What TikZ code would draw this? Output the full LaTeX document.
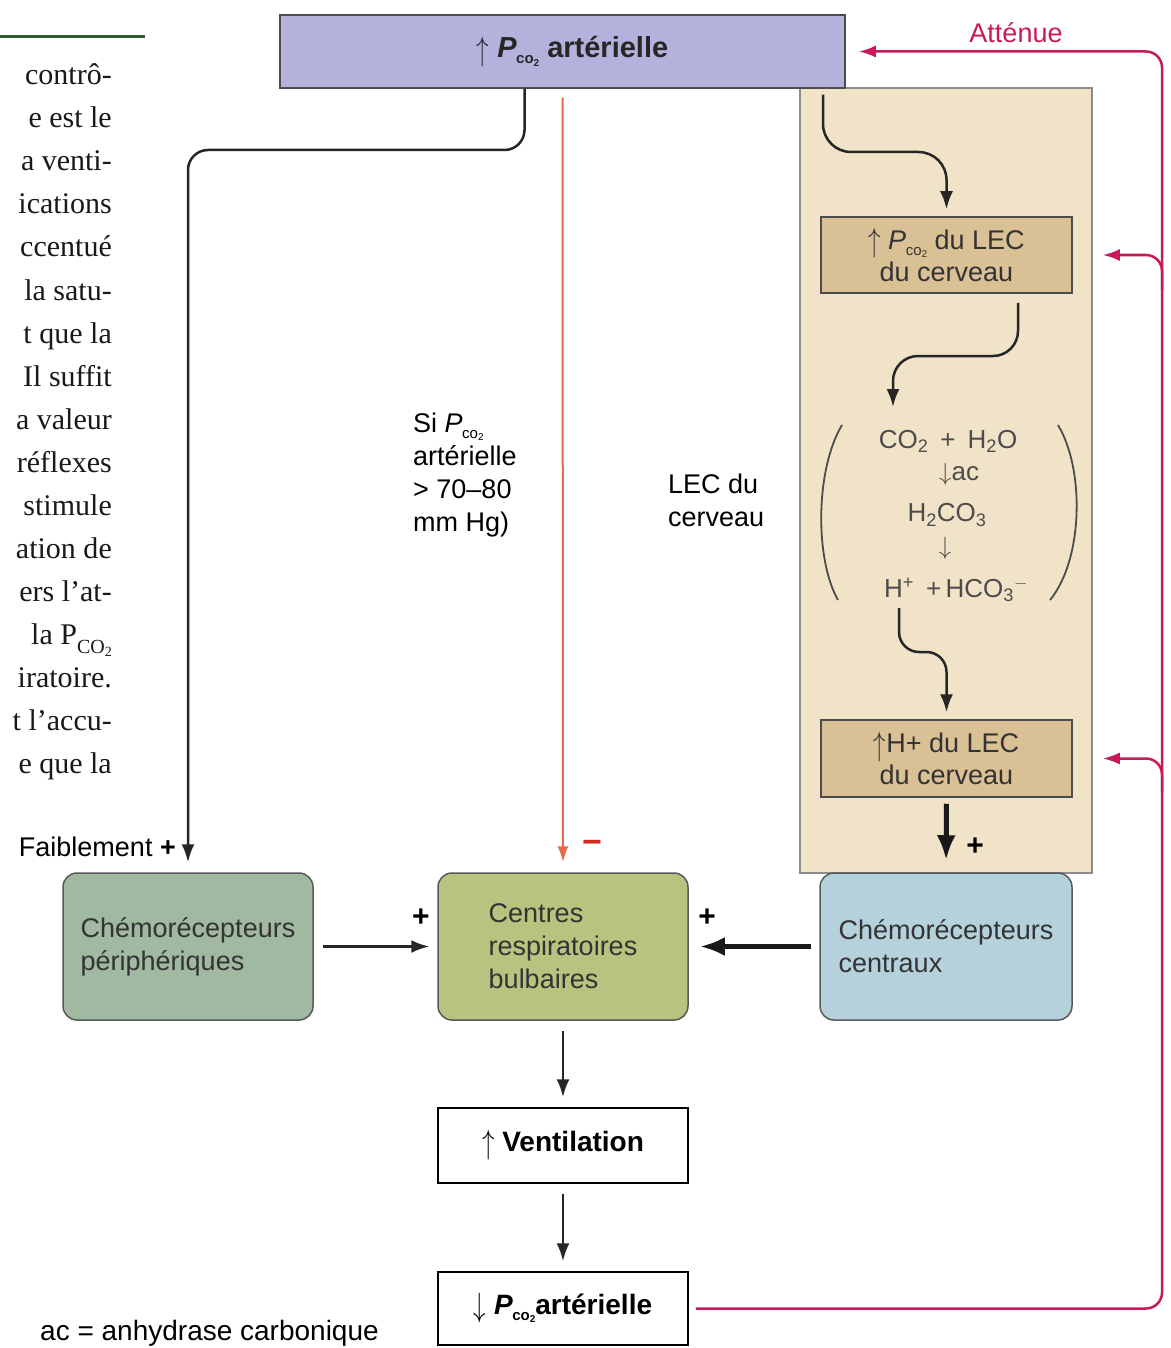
\documentclass[tikz,border=0pt]{standalone}
\usepackage{fontspec}
\setmainfont{Liberation Sans}
\newfontfamily\bookfont{Liberation Serif}
\usetikzlibrary{arrows.meta}
\definecolor{lav}{HTML}{B4B1DC}
\definecolor{tanA}{HTML}{F1E3C8}
\definecolor{tanB}{HTML}{DAC095}
\definecolor{grnA}{HTML}{A0B9A0}
\definecolor{grnB}{HTML}{B8C37F}
\definecolor{bluA}{HTML}{B5D1DB}
\definecolor{mag}{HTML}{C8195A}
\definecolor{orng}{HTML}{E56A48}
\definecolor{redm}{HTML}{D42C20}
\definecolor{txt}{HTML}{333333}
\definecolor{bookgreen}{HTML}{2E5E2E}
\newcommand{\Pco}{\textit{P}\kern-0.5pt\raisebox{-0.22em}{\fontsize{15}{15}\selectfont co\raisebox{-0.15em}{\fontsize{10}{10}\selectfont 2}}}
\newcommand{\upar}{\raisebox{-0.1em}{\scalebox{1}[1.35]{$\uparrow$}}}
\newcommand{\dnar}{\raisebox{-0.1em}{\scalebox{1}[1.35]{$\downarrow$}}}
\begin{document}
\begin{tikzpicture}[x=1pt,y=-1pt,
  lbl/.style={font=\fontsize{27}{33}\selectfont, text=black, inner sep=0pt},
  boxtxt/.style={font=\fontsize{27}{33}\selectfont, text=txt, align=left, inner sep=0pt},
  rbox/.style={boxtxt, draw=black!65, line width=1.5pt, rounded corners=14pt, minimum width=250pt, minimum height=147pt},
  tbox/.style={draw=black!70, line width=1.5pt, inner sep=0pt, align=center, font=\fontsize{27}{32}\selectfont, text=txt},
  conn/.style={draw=black!85, line width=2.5pt, -{Latex[length=18pt,width=13pt]}},
  bigconn/.style={draw=black!90, line width=5pt, -{Latex[length=25pt,width=19pt]}},
  magconn/.style={draw=mag, line width=2.5pt, -{Latex[length=17pt,width=12pt]}, rounded corners=16pt},
  redconn/.style={draw=orng, line width=2pt, -{Latex[length=16pt,width=11pt]}},
  chem/.style={font=\fontsize{26}{30}\selectfont, text=black!70, inner sep=0pt},
  book/.style={font=\bookfont\fontsize{30}{36}\selectfont, text=black!90, inner sep=0pt, anchor=base east}
]
\useasboundingbox (0,0) rectangle (1170,1348);
\clip (0,0) rectangle (1170,1348);
\fill[white] (0,0) rectangle (1170,1348);

% book text on the left
\draw[bookgreen, line width=3pt] (0,37) -- (145,37);
\foreach \t [count=\i] in {contrô-, e est le, a venti-, ications, ccentué, la satu-, t que la, Il suffit, a valeur, réflexes, stimule, ation de, ers l’at-, {la P\raisebox{-0.3em}{\fontsize{20}{20}\selectfont CO\raisebox{-0.15em}{\fontsize{14}{14}\selectfont 2}}}, iratoire., t l’accu-, e que la}
  \node[book, name=bk\i] at (112,{85+43*(\i-1)}) {\t};

% boxes
\node[draw=black!45, fill=tanA, line width=1.5pt, minimum width=292pt, minimum height=785pt, inner sep=0pt] (brain) at (946,480.5) {};
\node[tbox, fill=lav, minimum width=565pt, minimum height=73pt, font=\bfseries\fontsize{29}{32}\selectfont, text=black!85] (top) at (562.5,51.5) {\hspace*{20pt}\upar\ \Pco\ artérielle};
\node[tbox, fill=tanB, minimum width=251pt, minimum height=76pt] (lec1) at (946.5,255) {\upar\ \Pco\ du LEC\\du cerveau};
\node[tbox, fill=tanB, minimum width=251pt, minimum height=77pt] (lec2) at (946.5,758.5) {\upar H+ du LEC\\du cerveau};

\node[rbox, fill=grnA] (periph) at (188,946.5) {Chémorécepteurs\\périphériques};
\node[rbox, fill=grnB] (centre) at (563,946.5) {Centres\\respiratoires\\bulbaires};
\node[rbox, fill=bluA, minimum width=252pt] (central) at (946,946.5) {Chémorécepteurs\\centraux};
\node[tbox, fill=white, draw=black, minimum width=250pt, minimum height=75pt, font=\bfseries\fontsize{28}{32}\selectfont, text=black] (vent) at (563,1145.5) {\upar\ Ventilation};
\node[tbox, fill=white, draw=black, minimum width=250pt, minimum height=73pt, font=\bfseries\fontsize{28}{32}\selectfont, text=black] (low) at (563,1308.5) {\dnar\ \Pco artérielle};

% chemistry
\node[chem] (eq1) at (948,441) {CO\textsubscript{2}\hspace{12pt}+\hspace{12pt}H\textsubscript{2}O};
\node[chem, anchor=west] (eq2) at (939,474) {$\downarrow$ac};
\node[chem] (eq3) at (947,515) {H\textsubscript{2}CO\textsubscript{3}};
\node[chem] (eq4) at (945,548) {$\downarrow$};
\node[chem, anchor=west] (eq5) at (884,590) {H\textsuperscript{+}\hspace{12pt}+\,HCO\textsubscript{3}\textsuperscript{$-$}};
\draw[black!70, line width=1.8pt] (842,425) .. controls (815,470) and (815,560) .. (838,600);
\draw[black!70, line width=1.8pt] (1058,425) .. controls (1085,470) and (1083,560) .. (1050,600);
\coordinate (chemin) at (893,407);
\coordinate (hplus) at (899,608);

% connectors inside brain box
\draw[conn, rounded corners=28pt, shorten <=6pt, shorten >=7pt] ([xshift=260.5pt]top.south) |- (946.5,152) -- (lec1.north);
\draw[conn, rounded corners=25pt, shorten <=9pt] ([xshift=71.5pt]lec1.south) |- (893,356) -- (chemin);
\draw[conn, rounded corners=20pt, shorten >=7pt] (hplus) |- (946.5,652) -- (lec2.north);
\draw[bigconn, shorten <=6pt, shorten >=12pt] (lec2.south) -- (central.north);

% main connectors
\draw[conn, rounded corners=20pt, shorten >=10pt] ([xshift=-38pt]top.south) |- (188,150) -- (periph.north);
\draw[redconn, shorten <=9pt, shorten >=10pt] (top.south) -- (centre.north);
\draw[conn, shorten <=9pt, shorten >=8pt] (periph.east) -- (centre.west);
\draw[bigconn, shorten <=8pt, shorten >=11pt] (central.west) -- (centre.east);
\draw[conn, shorten <=10pt, shorten >=10pt] (centre.south) -- (vent.north);
\draw[conn, shorten <=10pt, shorten >=10pt] (vent.south) -- (low.north);

% feedback
\draw[magconn, shorten <=7pt, shorten >=13pt] (low.east) -| (1162,51.5) -- (top.east);
\draw[magconn, shorten >=30pt] (1162,290) |- (lec1.east);
\draw[magconn, shorten >=30pt] (1162,792) |- (lec2.east);

% labels
\node[lbl, text=mag] (att) at (1016,33) {Atténue};
\node[lbl, anchor=north west, align=left] (si) at (413,413) {Si \Pco\\artérielle\\> 70–80\\mm Hg)};
\node[lbl, anchor=north west, align=left] (lec) at (668,474) {LEC du\\cerveau};
\node[lbl, anchor=base east] (faib) at (176,856) {Faiblement \textbf{+}};
\node[lbl, text=redm, font=\bfseries\fontsize{34}{34}\selectfont] (minus) at (592,847) {−};
\node[lbl, font=\bfseries\fontsize{30}{30}\selectfont] (p1) at (975,847) {+};
\node[lbl, font=\bfseries\fontsize{30}{30}\selectfont] (p2) at (421,918) {+};
\node[lbl, font=\bfseries\fontsize{30}{30}\selectfont] (p3) at (707,918) {+};
\node[lbl, anchor=base west, font=\fontsize{28}{33}\selectfont] (legend) at (40,1340) {ac = anhydrase carbonique};
\end{tikzpicture}
\end{document}
